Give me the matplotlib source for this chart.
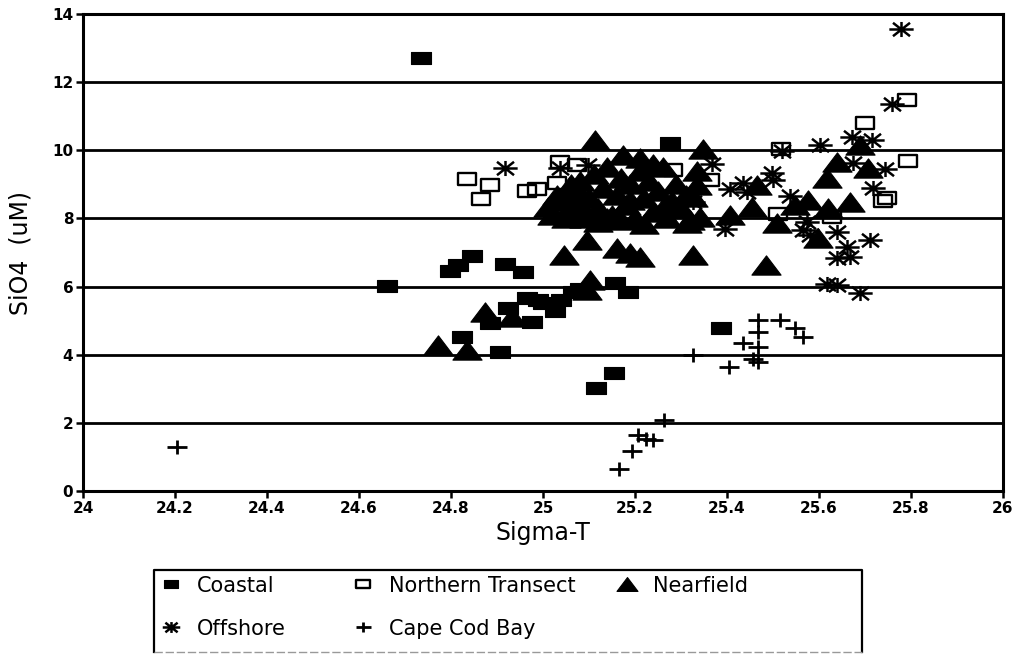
import numpy as np
import matplotlib
matplotlib.use("Agg")
import matplotlib.pyplot as plt
from matplotlib.path import Path
from matplotlib.lines import Line2D

# Sigma-T vs silicate, by station group
coastal_x = [24.735, 24.66, 24.798, 24.815, 24.846, 24.917, 24.957, 25.276,
             25.157, 25.185, 24.885, 24.924, 24.976, 24.965, 24.99, 25.0,
             25.026, 25.04, 25.065, 25.08, 24.824, 24.907, 25.154, 25.115,
             25.387]
coastal_y = [12.7, 6.02, 6.45, 6.62, 6.9, 6.65, 6.42, 10.2,
             6.1, 5.84, 4.93, 5.37, 4.96, 5.66, 5.62, 5.51,
             5.28, 5.6, 5.85, 5.92, 4.52, 4.08, 3.46, 3.02,
             4.78]

northern_x = [24.835, 24.885, 24.865, 24.965, 24.987, 25.037, 25.074, 25.03,
              25.283, 25.363, 25.517, 25.51, 25.628, 25.7, 25.792, 25.793,
              25.748, 25.739]
northern_y = [9.15, 8.97, 8.56, 8.8, 8.86, 9.65, 9.56, 9.03,
              9.41, 9.12, 10.05, 8.12, 8.04, 10.79, 11.49, 9.68,
              8.59, 8.5]

nearfield_x = [24.772, 24.835, 24.874, 24.933, 25.102, 25.096, 25.046, 25.096,
               25.16, 25.189, 25.21, 25.326, 25.485, 25.113, 25.174, 25.21,
               25.348, 25.689, 25.639, 25.707, 25.617, 25.335, 25.335, 25.32,
               25.465, 25.454, 25.576, 25.548, 25.62, 25.667, 25.341, 25.313,
               25.407, 25.508, 25.598, 25.326, 25.32,
               # dense group around 25.0-25.35
               25.02, 25.04, 25.05, 25.06, 25.07, 25.08, 25.09, 25.10,
               25.11, 25.12, 25.13, 25.14, 25.15, 25.16, 25.17, 25.18,
               25.19, 25.20, 25.21, 25.22, 25.23, 25.24, 25.25, 25.26,
               25.27, 25.28, 25.29, 25.30, 25.31, 25.12, 25.06, 25.03,
               25.24, 25.22, 25.14, 25.01, 25.05, 25.09, 25.17, 25.26,
               25.08, 25.19]
nearfield_y = [4.28, 4.13, 5.25, 5.1, 6.19, 5.9, 6.92, 7.36,
               7.12, 6.98, 6.86, 6.92, 6.62, 10.3, 9.85, 9.76,
               10.03, 10.15, 9.65, 9.47, 9.18, 9.4, 8.97, 8.68,
               8.97, 8.33, 8.53, 8.39, 8.3, 8.47, 8.04, 7.86,
               8.09, 7.86, 7.42, 8.62, 7.95,
               8.1, 8.5, 8.2, 8.8, 8.4, 9.1, 8.0, 8.6,
               9.3, 8.3, 8.9, 9.5, 8.1, 8.7, 9.2, 8.4,
               9.0, 8.0, 9.4, 8.6, 9.1, 8.2, 8.8, 9.5,
               8.0, 8.5, 9.0, 8.3, 8.7, 7.9, 9.0, 8.7,
               9.6, 7.85, 8.0, 8.35, 8.0, 8.25, 7.95, 8.3,
               8.75, 8.55]

offshore_x = [24.917, 25.037, 25.098, 25.778, 25.759, 25.672, 25.715, 25.602,
              25.52, 25.674, 25.743, 25.367, 25.498, 25.5, 25.717, 25.407,
              25.435, 25.443, 25.537, 25.396, 25.574, 25.565, 25.639, 25.711,
              25.661, 25.64, 25.667, 25.617, 25.639, 25.689, 25.58, 25.326]
offshore_y = [9.47, 9.47, 9.56, 13.55, 11.35, 10.38, 10.29, 10.15,
              9.98, 9.62, 9.45, 9.6, 9.32, 9.12, 8.89, 8.86,
              9.03, 8.77, 8.66, 7.68, 7.9, 7.65, 7.6, 7.36,
              7.16, 6.84, 6.87, 6.08, 6.04, 5.8, 7.5, 8.47]

capecod_x = [24.204, 25.467, 25.515, 25.548, 25.565, 25.467, 25.435, 25.467,
             25.457, 25.467, 25.326, 25.404, 25.263, 25.207, 25.224, 25.239,
             25.193, 25.165]
capecod_y = [1.29, 5.01, 5.01, 4.78, 4.52, 4.66, 4.34, 4.22,
             3.87, 3.78, 3.99, 3.64, 2.08, 1.64, 1.52, 1.5,
             1.17, 0.65]

x_ticks = [24, 24.2, 24.4, 24.6, 24.8, 25, 25.2, 25.4, 25.6, 25.8, 26]
x_tick_labels = ["24", "24.2", "24.4", "24.6", "24.8", "25", "25.2",
                 "25.4", "25.6", "25.8", "26"]
y_ticks = [0, 2, 4, 6, 8, 10, 12, 14]

# marker shapes (wider than tall)
rect = Path([(-1, -0.62), (1, -0.62), (1, 0.62), (-1, 0.62), (-1, -0.62)],
            [Path.MOVETO, Path.LINETO, Path.LINETO, Path.LINETO, Path.CLOSEPOLY])
tri = Path([(0, 0.66), (-1, -0.66), (1, -0.66), (0, 0.66)],
           [Path.MOVETO, Path.LINETO, Path.LINETO, Path.CLOSEPOLY])
star = Path([(-1, 0), (1, 0), (0, -0.62), (0, 0.62),
             (-0.7, -0.55), (0.7, 0.55), (-0.7, 0.55), (0.7, -0.55)],
            [Path.MOVETO, Path.LINETO] * 4)
plus = Path([(-1, 0), (1, 0), (0, -0.7), (0, 0.7)],
            [Path.MOVETO, Path.LINETO] * 2)

styles = {
    "Coastal": dict(marker=rect, ms=14.5, mfc="black", mec="black", mew=0.8),
    "Northern Transect": dict(marker=rect, ms=13.5, mfc="none", mec="black", mew=1.7),
    "Nearfield": dict(marker=tri, ms=21, mfc="black", mec="black", mew=0.8),
    "Offshore": dict(marker=star, ms=17.5, mfc="none", mec="black", mew=1.8),
    "Cape Cod Bay": dict(marker=plus, ms=15, mfc="none", mec="black", mew=2.0),
}

fig = plt.figure(figsize=(10.16, 6.58), dpi=100)
ax = fig.add_axes([0.0817, 0.2538, 0.9055, 0.7249])

ax.plot(coastal_x, coastal_y, ls="none", **styles["Coastal"])
ax.plot(northern_x, northern_y, ls="none", **styles["Northern Transect"])
ax.plot(offshore_x, offshore_y, ls="none", **styles["Offshore"])
ax.plot(nearfield_x, nearfield_y, ls="none", **styles["Nearfield"])
ax.plot(capecod_x, capecod_y, ls="none", **styles["Cape Cod Bay"])

ax.set_xlim(24, 26)
ax.set_ylim(0, 14)
ax.set_xticks(x_ticks)
ax.set_xticklabels(x_tick_labels)
ax.set_yticks(y_ticks)
ax.tick_params(direction="out", length=5, width=1.8, labelsize=11, pad=2)
for lab in ax.get_xticklabels() + ax.get_yticklabels():
    lab.set_fontweight("bold")
ax.grid(axis="y", color="black", lw=2)
ax.set_axisbelow(True)
for sp in ax.spines.values():
    sp.set_linewidth(2.2)

ax.set_xlabel("Sigma-T", fontsize=17, labelpad=4)
ax.set_ylabel("SiO4  (uM)", fontsize=17, labelpad=14)

# legend, laid out in three columns inside one frame
def handle(name):
    st = styles[name]
    return Line2D([], [], ls="none", marker=st["marker"], ms=st["ms"] * 0.72,
                  mfc=st["mfc"], mec=st["mec"], mew=st["mew"])

columns = [(["Coastal", "Offshore"], 0.156),
           (["Northern Transect", "Cape Cod Bay"], 0.345),
           (["Nearfield"], 0.605)]
for names, x0 in columns:
    fig.legend([handle(n) for n in names], names, loc="upper left",
               bbox_to_anchor=(x0, 0.125), frameon=False, fontsize=15,
               handlelength=1.2, handletextpad=0.65, labelspacing=1.1,
               borderpad=0, borderaxespad=0)

lx0, lx1, ly0, ly1 = 0.1516, 0.8484, 0.0091, 0.1337
fig.add_artist(Line2D([lx0, lx0, lx1, lx1], [ly0, ly1, ly1, ly0],
                      color="black", lw=1.6, transform=fig.transFigure))
fig.add_artist(Line2D([lx0, lx1], [ly0, ly0], color="0.6", lw=1.0,
                      ls=(0, (6, 2)), transform=fig.transFigure))

fig.savefig("out.png", dpi=100)
